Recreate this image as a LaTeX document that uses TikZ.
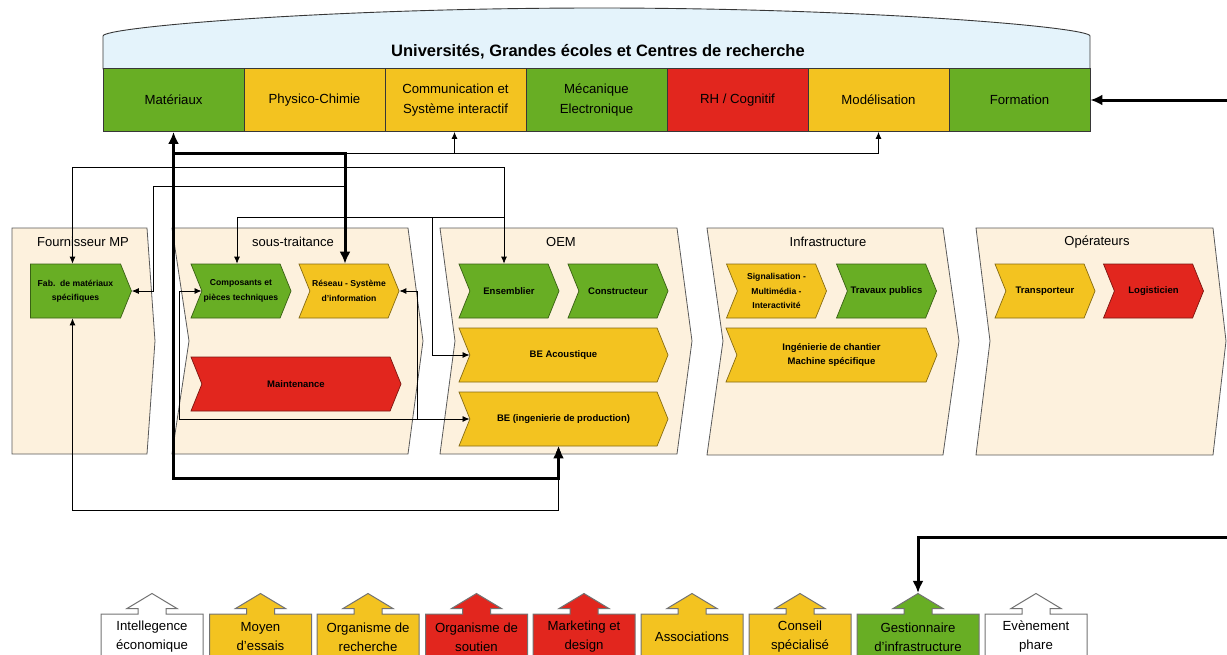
\documentclass[tikz,border=0pt]{standalone}
\usepackage{fontspec}
\setmainfont{Liberation Sans}
\usetikzlibrary{shapes.symbols, shapes.arrows, arrows.meta, positioning, calc}
\definecolor{polegreen}{RGB}{104,174,36}
\definecolor{poleyellow}{RGB}{243,195,32}
\definecolor{polered}{RGB}{226,38,30}
\definecolor{polebeige}{RGB}{253,241,221}
\definecolor{polesky}{RGB}{228,243,251}
\definecolor{poleline}{RGB}{55,55,55}
\tikzset{
  cell/.style={rectangle, draw=poleline, line width=0.9pt, fill=#1, minimum width=141pt,
               minimum height=63pt, inner sep=0pt, align=center, font=\fontsize{13.2}{20}\selectfont},
  chev/.style={signal, signal to=east, signal from=west, signal pointer angle=136,
               draw=#1!55!black, fill=#1, line width=0.7pt, minimum width=100pt, minimum height=54pt,
               inner sep=0pt, align=center, font=\fontsize{9.5}{14.5}\selectfont\bfseries},
  smalltext/.style={font=\fontsize{8.6}{14.5}\selectfont\bfseries},
  lane/.style={draw=black!65, line width=0.8pt, fill=polebeige},
  lanetitle/.style={font=\fontsize{13}{15}\selectfont},
  pole/.style={arrow box, arrow box arrows={north:20pt}, arrow box shaft width=28pt,
               arrow box head extend=11pt, arrow box head indent=0pt, arrow box tip angle=118,
               draw=black!55, line width=1pt, fill=#1, minimum width=102pt, minimum height=46pt,
               inner sep=0pt, align=center, font=\fontsize{13.2}{19}\selectfont},
  pole/.default=white,
  arrow/.style={-{Latex[length=7pt,width=6pt]}, line width=0.8pt},
  darrow/.style={{Latex[length=7pt,width=6pt]}-{Latex[length=7pt,width=6pt]}, line width=0.8pt},
  tarrow/.style={-{Latex[length=12pt,width=11pt]}, line width=3pt},
  tdarrow/.style={{Latex[length=12pt,width=11pt]}-{Latex[length=12pt,width=11pt]}, line width=3pt},
}
\begin{document}
\begin{tikzpicture}[x=1pt, y=-1pt]
  \useasboundingbox (0,0) rectangle (1227,654);
  \clip (0,0) rectangle (1227,654);

  % Universites header
  \draw[draw=poleline, line width=0.9pt, fill=polesky] (103,69) -- (103,36)
    .. controls (103,27) and (330,8) .. (597,8) .. controls (864,8) and (1090,27) .. (1090,36)
    -- (1090,69) -- cycle;
  \node[font=\fontsize{16.5}{19}\selectfont\bfseries] (univ) at (598,52) {Universités, Grandes écoles et Centres de recherche};
  \node[cell=polegreen] (mat) at (173.5,100) {Matériaux};
  \node[cell=poleyellow] (phy) at (314.5,100) {Physico-Chimie};
  \node[cell=poleyellow] (com) at (455.5,100) {Communication et\\Système interactif};
  \node[cell=polegreen] (mec) at (596.5,100) {Mécanique\\Electronique};
  \node[cell=polered] (rh) at (737.5,100) {RH / Cognitif};
  \node[cell=poleyellow] (mod) at (878.5,100) {Modélisation};
  \node[cell=polegreen] (form) at (1019.5,100) {Formation};

  % lanes
  \draw[lane] (12,228) -- (147,228) -- (155,341) -- (147,454) -- (12,454) -- cycle;
  \draw[lane] (172,228) -- (408,228) -- (423,341) -- (408,454) -- (172,454) -- (189,341) -- cycle;
  \draw[lane] (440,228) -- (677,228) -- (692,341) -- (677,454) -- (440,454) -- (455,341) -- cycle;
  \draw[lane] (707,228) -- (943,228) -- (959,341) -- (943,455) -- (707,455) -- (723,341) -- cycle;
  \draw[lane] (976,228) -- (1213,228) -- (1226,341) -- (1213,455) -- (976,455) -- (990,341) -- cycle;
  \node[lanetitle] (tfour) at (83,242) {Fournisseur MP};
  \node[lanetitle] (tsous) at (293,242) {sous-traitance};
  \node[lanetitle] (toem) at (561,242) {OEM};
  \node[lanetitle] (tinfra) at (828,242) {Infrastructure};
  \node[lanetitle] (topera) at (1097,242) {Opérateurs};

  % Fournisseur MP / sous-traitance
  \node[chev=polegreen, signal from=nowhere, minimum width=101pt, smalltext] (fab) at (75.5,291) {Fab.\ \ de matériaux\\spécifiques};
  \node[chev=polegreen, smalltext] (comp) at (241,291) {Composants et\\pièces techniques};
  \node[chev=poleyellow, smalltext] (res) at (349,291) {Réseau - Système\\d'information};
  \node[chev=polered, minimum width=210pt] (maint) at (296,384) {Maintenance};

  % OEM
  \node[chev=polegreen] (ens) at (509,291) {Ensemblier};
  \node[chev=polegreen] (cons) at (618,291) {Constructeur};
  \node[chev=poleyellow, minimum width=209pt] (beac) at (563.5,355) {BE Acoustique};
  \node[chev=poleyellow, minimum width=209pt] (beprod) at (563.5,419) {BE (ingenierie de production)};

  % Infrastructure / Operateurs
  \node[chev=poleyellow, smalltext] (sig) at (776.5,291) {Signalisation -\\Multimédia -\\Interactivité};
  \node[chev=polegreen] (trav) at (886.5,291) {Travaux publics};
  \node[chev=poleyellow, minimum width=211pt] (ingc) at (831.5,355) {Ingénierie de chantier\\Machine spécifique};
  \node[chev=poleyellow] (trans) at (1045,291) {Transporteur};
  \node[chev=polered] (logi) at (1153.5,291) {Logisticien};

  % poles
  \node[pole] (intel) at (152,637) {Intellegence\\économique};
  \node[pole=poleyellow] (moyen) at (260.5,637) {Moyen\\d'essais};
  \node[pole=poleyellow] (orech) at (368,637) {Organisme de\\recherche};
  \node[pole=polered] (osout) at (476.5,637) {Organisme de\\soutien};
  \node[pole=polered] (mkt) at (584,637) {Marketing et\\design};
  \node[pole=poleyellow] (assoc) at (692,637) {Associations};
  \node[pole=poleyellow] (conseil) at (800,637) {Conseil\\spécialisé};
  \node[pole=polegreen, minimum width=122pt] (gest) at (918,637) {Gestionnaire\\d'infrastructure};
  \node[pole] (event) at (1036,637) {Evènement\\phare};

  % junctions
  \coordinate (busL) at (mat.south |- 0,153);
  \coordinate (busR) at ($(res.north |- 0,153)+(-4,0)$);
  \coordinate (busF) at ($(res.north |- 0,186)+(-4,0)$);
  \coordinate (jOem) at ($(ens.north |- 0,217)+(-5,0)$);
  \coordinate (jAc) at (432,217);
  \coordinate (jSt) at (beprod.west -| 179,0);
  \coordinate (jRes) at (beprod.west -| 417,0);
  \coordinate (eFor) at (1227,100);
  \coordinate (eGes) at (1227,537);

  % thick links
  \draw[tdarrow] (mat.south) |- ($(beprod.south)+(-5,32)$) -- ([xshift=-5pt]beprod.south);
  \draw[tarrow] (busL) -| ([xshift=-4pt]res.north);
  \draw[tarrow] (eFor) -- (form.east);
  \draw[tarrow] (eGes) -| (gest.north arrow tip);

  % thin links
  \draw[arrow] (busR) -| ([xshift=-1pt]com.south);
  \draw[arrow] (busR) -| (mod.south);
  \draw[darrow] ([xshift=-3pt]fab.north) |- ($(ens.north)+(-5,-96)$) -- ([xshift=-5pt]ens.north);
  \draw[arrow] (busF) -| ($(fab.east)+(22,0)$) -- (fab.east);
  \draw[arrow] (jOem) -| ([xshift=-4pt]comp.north);
  \draw[arrow] (jAc) |- (beac.west);
  \draw[darrow] (comp.west) -| (jSt) -- (beprod.west);
  \draw[arrow] (jRes) |- (res.east);
  \draw[darrow] ([xshift=-3pt]fab.south) |- ($(beprod.south)+(-5,64)$) -- ([xshift=-5pt]beprod.south);
\end{tikzpicture}
\end{document}
